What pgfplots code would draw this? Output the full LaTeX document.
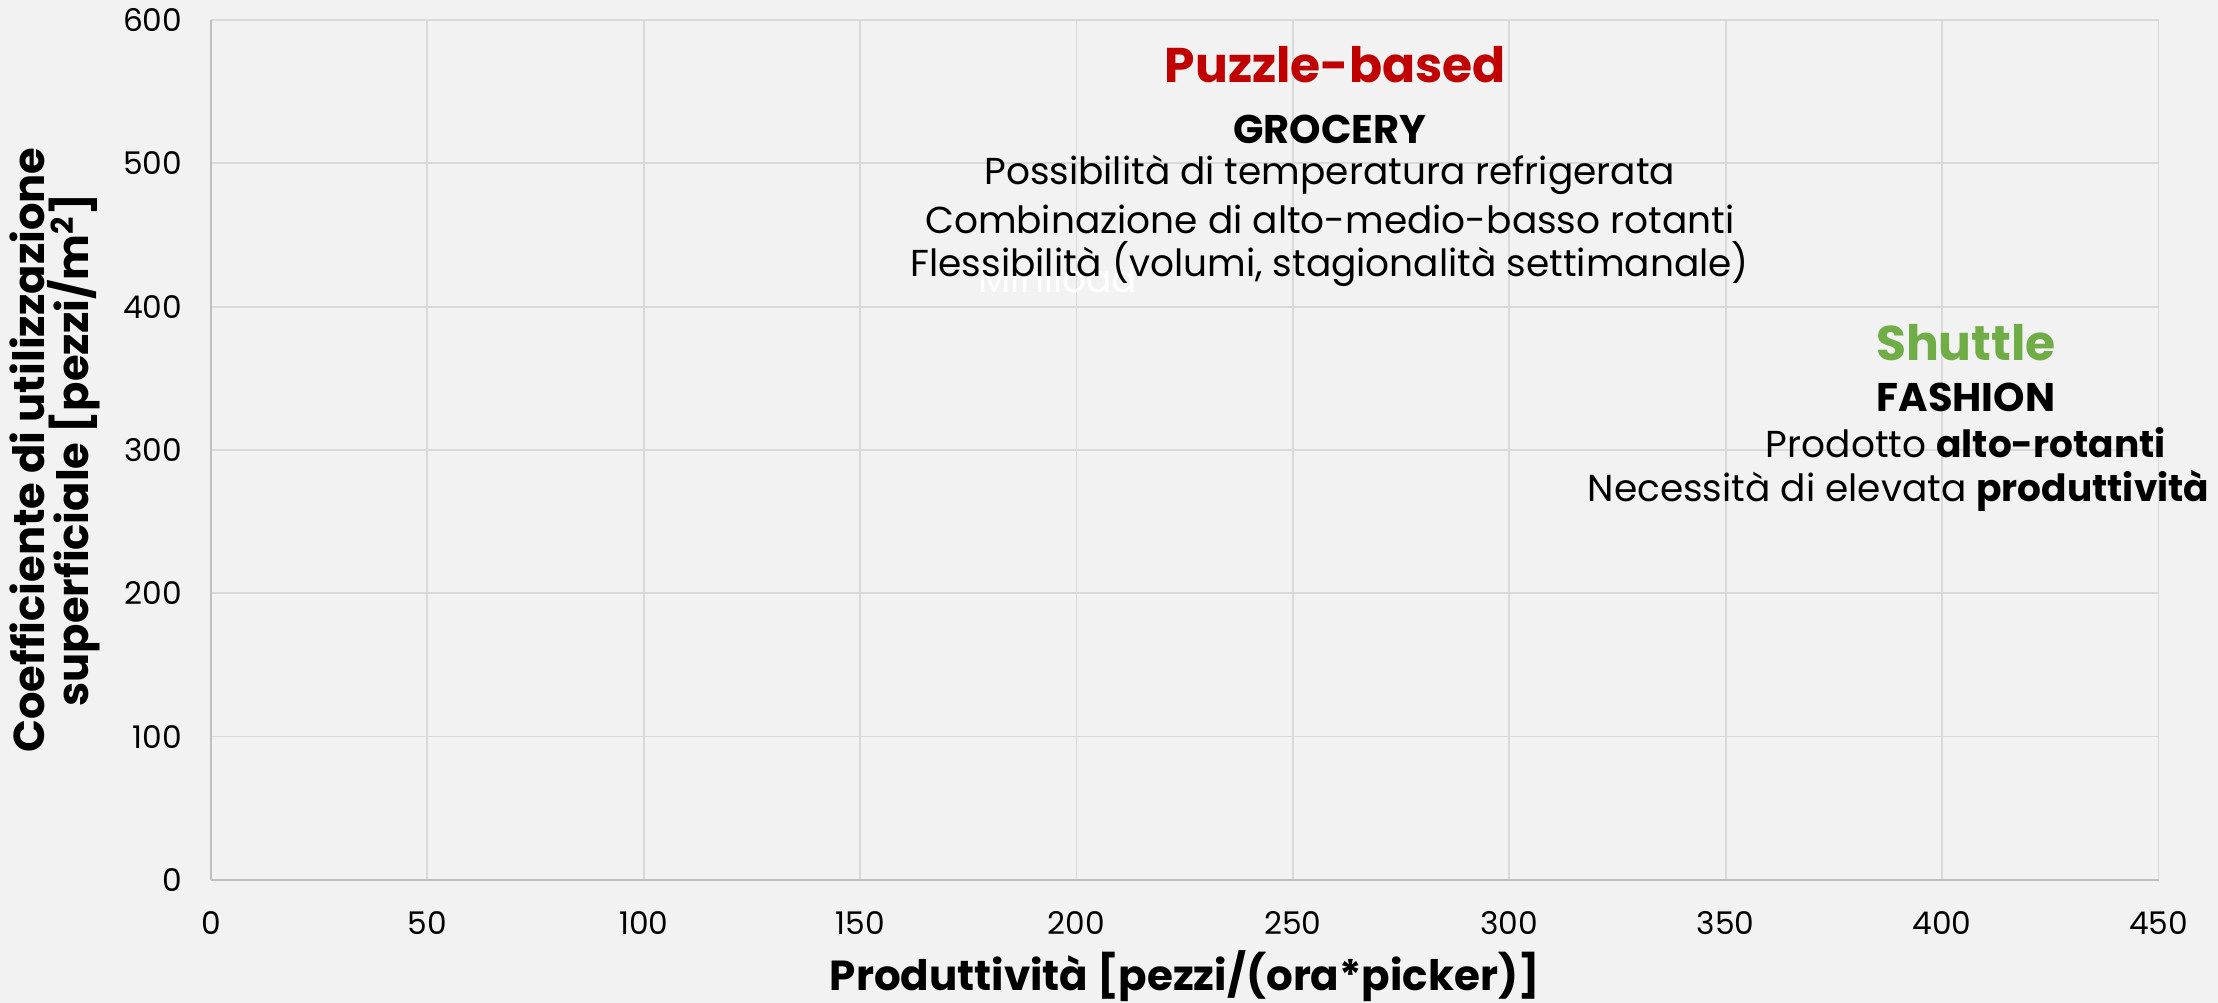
\documentclass[border=0pt]{standalone}
\usepackage{fontspec}
\setmainfont{Poppins}
\usepackage{pgfplots}
\pgfplotsset{compat=1.18}
\definecolor{bg}{HTML}{F2F2F2}
\definecolor{gridc}{HTML}{D9D9D9}
\definecolor{axc}{HTML}{BFBFBF}
\definecolor{red1}{HTML}{C00000}
\definecolor{green1}{HTML}{70AD47}
\newcommand{\bodyfont}{\fontsize{15}{18}\selectfont}
\begin{document}
\begin{tikzpicture}
\fill[bg] (-84.4pt,-49.2pt) rectangle (802.9pt,352pt);
\begin{axis}[at={(0pt,0pt)}, anchor=south west, scale only axis,
  width=779.1pt, height=344pt,
  xmin=0, xmax=450, ymin=0, ymax=600,
  xtick={0,50,...,450}, ytick={0,100,...,600},
  grid=major, major grid style={draw=gridc, line width=0.7pt},
  axis x line=bottom, axis y line=left,
  axis line style={draw=axc, line width=1pt, -},
  major tick length=0pt,
  tick label style={font=\fontsize{12.5}{14}\selectfont},
  /pgf/number format/assume math mode=true,
  xticklabel style={yshift=-9pt}, yticklabel style={xshift=-8pt},
  xlabel={Produttività [pezzi/(ora*picker)]},
  ylabel={Coefficiente di utilizzazione\\superficiale [pezzi/m\textsuperscript{2}]},
  xlabel style={at={(axis description cs:0.5,-0.1116)}, anchor=center,
    font=\fontsize{16.8}{19}\selectfont\bfseries},
  ylabel style={at={(axis description cs:-0.080,0.5)}, anchor=center,
    align=center, font=\fontsize{17.3}{15.8}\selectfont\bfseries},
  clip=false]
\addplot[draw=none] coordinates {(0,0)};
\node[font=\bodyfont, text=white] at (axis cs:195.7,419.4) {Miniload};
\node[font=\fontsize{19.5}{23}\selectfont\bfseries, text=red1] at (axis cs:259.8,569) {Puzzle-based};
\node[font=\fontsize{16}{19}\selectfont\bfseries] at (axis cs:258.5,524) {GROCERY};
\node[font=\bodyfont] at (axis cs:258.5,492) {Possibilità di temperatura refrigerata};
\node[font=\bodyfont] at (axis cs:258.5,461) {Combinazione di alto-medio-basso rotanti};
\node[font=\bodyfont] at (axis cs:258.5,430) {Flessibilità (volumi, stagionalità settimanale)};
\node[font=\fontsize{19.5}{23}\selectfont\bfseries, text=green1] at (axis cs:405.5,375) {Shuttle};
\node[font=\fontsize{16}{19}\selectfont\bfseries] at (axis cs:405.5,336.5) {FASHION};
\node[font=\bodyfont] at (axis cs:405.5,305) {Prodotto \textbf{alto-rotanti}};
\node[font=\bodyfont, anchor=west, inner sep=0pt] at (axis cs:318,273) {Necessità di elevata \textbf{produttività} (};
\end{axis}
\pgfresetboundingbox
\useasboundingbox (-84.4pt,-49.2pt) rectangle (802.9pt,352pt);
\end{tikzpicture}
\end{document}
